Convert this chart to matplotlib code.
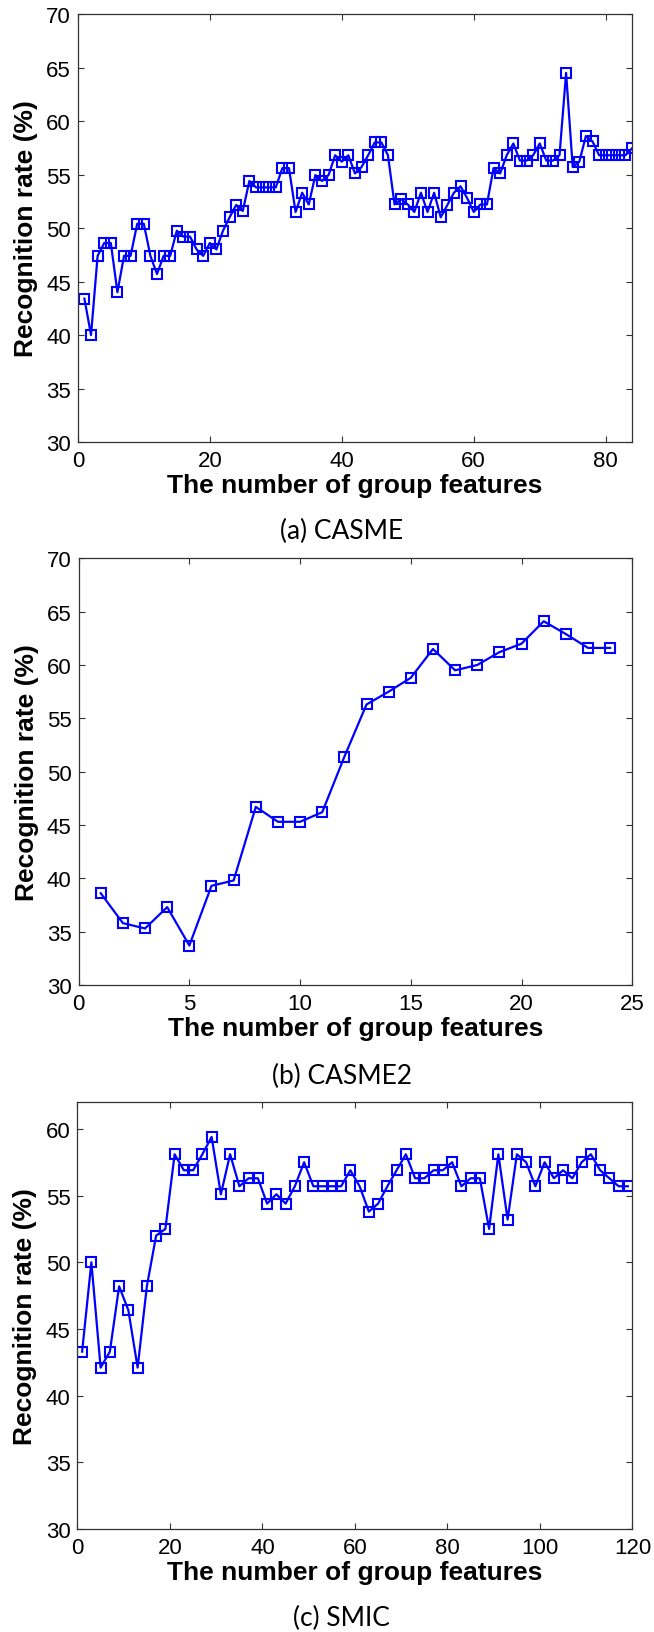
import matplotlib
matplotlib.use("Agg")
import matplotlib.pyplot as plt

plt.rcParams['font.family'] = ['Liberation Sans', 'DejaVu Sans']

# (a) CASME
casme_x = list(range(1, 85))
casme_y = [43.4, 40.0, 47.4, 48.6, 48.6, 44.0, 47.4, 47.4, 50.4, 50.4,
           47.4, 45.7, 47.4, 47.4, 49.75, 49.2, 49.2, 48.0, 47.4, 48.6,
           48.0, 49.75, 51.0, 52.15, 51.6, 54.4, 53.8, 53.8, 53.8, 53.8,
           55.6, 55.6, 51.5, 53.3, 52.2, 54.95, 54.4, 54.95, 56.8, 56.2,
           56.8, 55.1, 55.7, 56.8, 58.0, 58.0, 56.8, 52.2, 52.7, 52.2,
           51.5, 53.3, 51.5, 53.3, 51.0, 52.15, 53.3, 53.9, 52.8, 51.5,
           52.2, 52.2, 55.6, 55.1, 56.8, 57.9, 56.3, 56.3, 56.8, 57.9,
           56.3, 56.3, 56.8, 64.5, 55.7, 56.2, 58.6, 58.1, 56.8, 56.8,
           56.8, 56.8, 56.8, 57.45]

# (b) CASME2
casme2_x = list(range(1, 25))
casme2_y = [38.6, 35.8, 35.3, 37.3, 33.7, 39.3, 39.8, 46.7, 45.3, 45.3,
            46.2, 51.4, 56.3, 57.5, 58.8, 61.5, 59.5, 60.0, 61.2, 62.0,
            64.1, 62.9, 61.6, 61.6]

# (c) SMIC
smic_x = list(range(1, 120, 2))
smic_y = [43.3, 50.0, 42.1, 43.3, 48.2, 46.4, 42.1, 48.2, 52.0, 52.5,
          58.1, 56.9, 56.9, 58.1, 59.4, 55.1, 58.1, 55.7, 56.3, 56.3,
          54.4, 55.1, 54.4, 55.7, 57.5, 55.7, 55.7, 55.7, 55.7, 56.9,
          55.7, 53.8, 54.4, 55.7, 56.9, 58.1, 56.3, 56.3, 56.9, 56.9,
          57.5, 55.7, 56.3, 56.3, 52.5, 58.1, 53.2, 58.1, 57.5, 55.7,
          57.5, 56.3, 56.9, 56.3, 57.5, 58.1, 56.9, 56.3, 55.7, 55.7]

panels = [
    (casme_x, casme_y, (0, 84), range(0, 81, 20), (30, 70), range(30, 71, 5), "(a) CASME",
     [0.119, 0.7287, 0.8475, 0.2621], 0.6745),
    (casme2_x, casme2_y, (0, 25), range(0, 26, 5), (30, 70), range(30, 71, 5), "(b) CASME2",
     [0.1202, 0.3962, 0.8466, 0.2613], 0.3405),
    (smic_x, smic_y, (0, 120), range(0, 121, 20), (30, 62), range(30, 61, 5), "(c) SMIC",
     [0.1185, 0.0631, 0.8486, 0.2613], 0.0086),
]

fig = plt.figure(figsize=(6.54, 16.33), dpi=100)

for x, y, xl, xt, yl, yt, cap, pos, capy in panels:
    ax = fig.add_axes(pos)
    ax.plot(x, y, color='#0000ff', lw=1.6, marker='s', ms=7.5,
            mfc='none', mec='#0000ff', mew=1.5)
    ax.set_xlim(*xl)
    ax.set_ylim(*yl)
    ax.set_xticks(list(xt))
    ax.set_yticks(list(yt))
    ax.tick_params(direction='in', length=4.5, width=0.8, top=True, right=True,
                   labelsize=16, color='#333333')
    ax.tick_params(axis='y', pad=5)
    ax.tick_params(axis='x', pad=6)
    for s in ax.spines.values():
        s.set_linewidth(0.9)
        s.set_color('#333333')
    ax.set_xlabel("The number of group features", fontsize=19, fontweight='bold', labelpad=1.5)
    ax.set_ylabel("Recognition rate (%)", fontsize=19, fontweight='bold', labelpad=6)
    fig.text(0.5225, capy, cap, ha='center', va='center', fontsize=19,
             family=['Lato', 'DejaVu Sans'])

fig.savefig("out.png", dpi=100)
